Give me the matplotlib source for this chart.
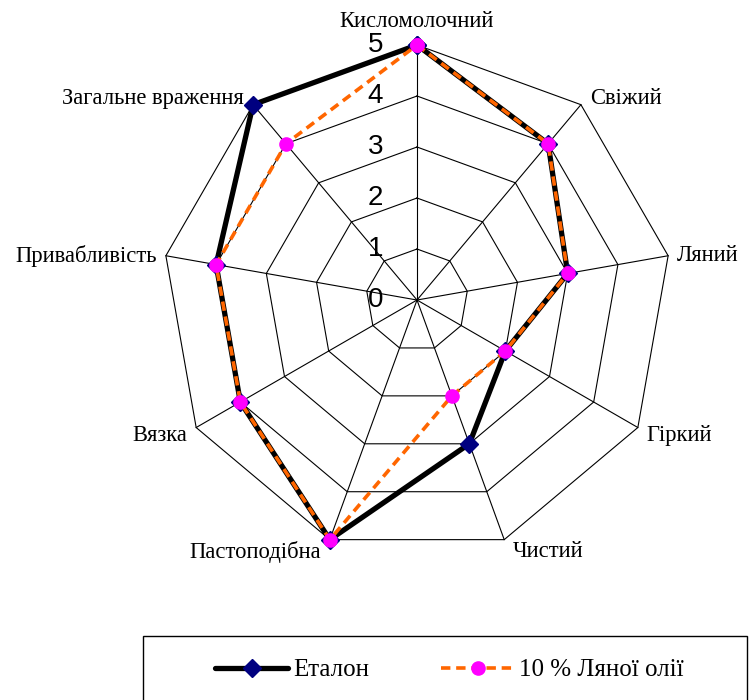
import numpy as np
import matplotlib.pyplot as plt
from matplotlib.patches import Rectangle

# sensory attributes, clockwise from the top
categories = ["Кисломолочний", "Свіжий", "Ляний", "Гіркий", "Чистий",
              "Пастоподібна", "Вязка", "Привабливість", "Загальне враження"]
etalon = [5, 4, 3, 2, 3, 5, 4, 4, 5]
flax_10 = [5, 4, 3, 2, 2, 5, 4, 4, 4]
series_names = ["Еталон", "10 % Ляної олії"]
levels = [0, 1, 2, 3, 4, 5]

PX = 0.72  # points per pixel at dpi 100


def closed(values):
    return list(values) + [values[0]]


def main():
    fig = plt.figure(figsize=(7.56, 7.0), dpi=100)
    ax = fig.add_axes([0.2143, 0.2071, 0.6746, 0.7286], projection="polar")
    ax.set_theta_zero_location("N")
    ax.set_theta_direction(-1)
    ax.set_ylim(0, 5)
    ax.grid(False)
    ax.set_xticks([])
    ax.set_yticks([])
    ax.spines["polar"].set_visible(False)

    n = len(categories)
    theta = np.arange(n) * 2 * np.pi / n
    theta_c = closed(theta)

    # polygon rings and spokes
    for lvl in levels[1:]:
        ax.plot(theta_c, [lvl] * (n + 1), color="black", lw=0.8, zorder=1, clip_on=False)
    for t in theta:
        ax.plot([t, t], [0, 5], color="black", lw=0.8, zorder=1, clip_on=False)

    # value labels along the top spoke
    for lvl in levels:
        ax.annotate(str(lvl), xy=(0, lvl), xytext=(-34 * PX, 0), textcoords="offset points",
                    ha="right", va="center", fontsize=20, family="Liberation Sans")

    # category labels outside the outer ring
    for t, lab in zip(theta, categories):
        s, c = np.sin(t), np.cos(t)
        if abs(s) < 0.1:
            ha, va, dx, dy = "center", "bottom", 0, 13
        else:
            ha = "left" if s > 0 else "right"
            va = "center"
            dx = 9 if s > 0 else -9
            dy = 11 * c - 2
        ax.annotate(lab, xy=(t, 5), xytext=(dx * PX, dy * PX), textcoords="offset points",
                    ha=ha, va=va, fontsize=16.3, family="Liberation Serif")

    l1, = ax.plot(theta_c, closed(etalon), color="black", lw=3.8, marker="D",
                  markersize=9.5, markerfacecolor="#000080", markeredgecolor="#000080",
                  solid_capstyle="round", zorder=3, clip_on=False)
    l2, = ax.plot(theta_c, closed(flax_10), color="#FF6600", lw=2.6, ls=(0, (2.6, 1.6)),
                  marker="o", markersize=9.5, markerfacecolor="#FF00FF",
                  markeredgecolor="#FF00FF", dash_capstyle="butt", zorder=4, clip_on=False)

    fig.patches.append(Rectangle((143 / 756, -0.05), 604 / 756, (700 - 636) / 700 + 0.05,
                                 transform=fig.transFigure, fill=False, edgecolor="black",
                                 lw=1.0))
    fig.legend([l1, l2], series_names, loc="center", bbox_to_anchor=(449.5 / 756, 1 - 670 / 700),
               ncol=2, frameon=False, handlelength=2.9, handletextpad=0.2,
               columnspacing=2.9, borderpad=0,
               prop={"family": "Liberation Serif", "size": 18})

    fig.savefig("out.png", dpi=100)


if __name__ == "__main__":
    main()
